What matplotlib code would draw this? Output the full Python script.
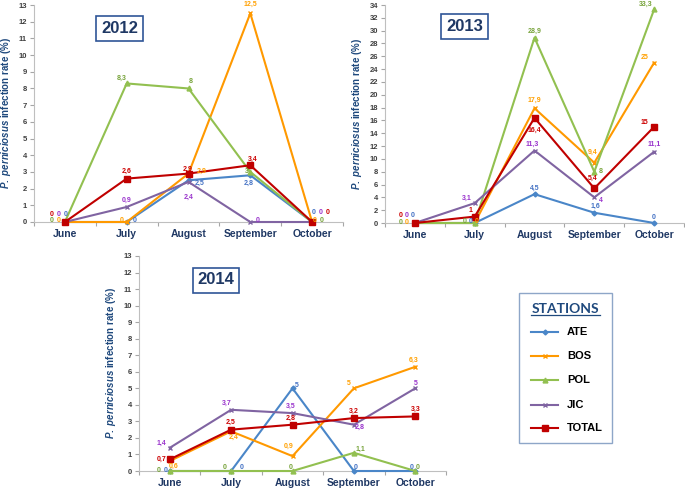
import matplotlib
matplotlib.use("Agg")
import matplotlib.pyplot as plt
from matplotlib.patches import Rectangle
from matplotlib.lines import Line2D

# ---------------- data ----------------
months = ["June", "July", "August", "September", "October"]
stations = ["ATE", "BOS", "POL", "JIC", "TOTAL"]

ate_2012 = [0, 0, 2.5, 2.8, 0]
bos_2012 = [0, 0, 2.9, 12.5, 0]
pol_2012 = [0, 8.3, 8, 3, 0]
jic_2012 = [0, 0.9, 2.4, 0, 0]
tot_2012 = [0, 2.6, 2.9, 3.4, 0]

ate_2013 = [0, 0, 4.5, 1.6, 0]
bos_2013 = [0, 0, 17.9, 9.4, 25]
pol_2013 = [0, 0, 28.9, 8, 33.3]
jic_2013 = [0, 3.1, 11.3, 4, 11.1]
tot_2013 = [0, 1, 16.4, 5.4, 15]

ate_2014 = [0, 0, 5, 0, 0]
bos_2014 = [0.6, 2.4, 0.9, 5, 6.3]
pol_2014 = [0, 0, 0, 1.1, 0]
jic_2014 = [1.4, 3.7, 3.5, 2.8, 5]
tot_2014 = [0.7, 2.5, 2.8, 3.2, 3.3]

ymax_2012, ymax_2013, ymax_2014 = 13, 34, 13
ystep_2012, ystep_2013, ystep_2014 = 1, 2, 1

# ---------------- style ----------------
plt.rcParams['font.family'] = ['Liberation Sans', 'DejaVu Sans']
plt.rcParams['mathtext.fontset'] = 'custom'
plt.rcParams['mathtext.it'] = 'Liberation Sans:italic:bold'
plt.rcParams['mathtext.rm'] = 'Liberation Sans:bold'

line_colors = {"ATE": "#4A86C8", "BOS": "#FF9900", "POL": "#92C050",
               "JIC": "#8064A2", "TOTAL": "#C00000"}
label_colors = {"ATE": "#4472C4", "BOS": "#FFA000", "POL": "#77A33A",
                "JIC": "#9933CC", "TOTAL": "#CC0000"}
markers = {"ATE": ("D", 2.5), "BOS": ("x", 3.5), "POL": ("^", 3.5),
           "JIC": ("x", 3.5), "TOTAL": ("s", 4.5)}
navy = "#1F3864"

W, H = 685, 490
fig = plt.figure(figsize=(W / 100, H / 100), dpi=100)


def px_axes(x0, x1, ytop, ybot):
    return fig.add_axes([x0 / W, 1 - ybot / H, (x1 - x0) / W, (ybot - ytop) / H])


def fmt(v):
    return f"{v:g}".replace(".", ",")


def draw(ax, series, ymax, ystep, offsets, title, title_xy):
    x = list(range(len(months)))
    for name, vals in zip(stations, series):
        m, ms = markers[name]
        ax.plot(x, vals, color=line_colors[name], lw=1.5, marker=m, ms=ms,
                mew=1.0, mec=line_colors[name], mfc=line_colors[name],
                zorder=3, clip_on=False)
    for name, vals in zip(stations, series):
        for i, v in enumerate(vals):
            dx, dy = offsets[name][i]
            ax.annotate(fmt(v), (i, v), xytext=(dx * 0.72, -dy * 0.72),
                        textcoords="offset points", ha="center", va="center",
                        fontsize=5, fontweight="bold", color=label_colors[name],
                        zorder=5, annotation_clip=False)
    ax.set_xlim(-0.5, len(months) - 0.5)
    ax.set_ylim(0, ymax)
    ax.set_yticks(range(0, ymax + 1, ystep))
    ax.set_xticks(x)
    ax.set_xticklabels(months, fontsize=7.5, fontweight="bold", color=navy)
    ax.set_xticks([i + 0.5 for i in range(-1, len(months))], minor=True)
    ax.tick_params(axis="x", which="major", length=0, pad=5)
    ax.tick_params(axis="x", which="minor", length=3, color="#A6A6A6", width=0.8)
    ax.tick_params(axis="y", length=3, color="#A6A6A6", width=0.8,
                   labelsize=5.5, labelcolor="#404040", pad=2)
    for lbl in ax.get_yticklabels():
        lbl.set_fontweight("bold")
    for s in ["top", "right"]:
        ax.spines[s].set_visible(False)
    for s in ["left", "bottom"]:
        ax.spines[s].set_color("#BFBFBF")
        ax.spines[s].set_linewidth(0.8)
    ax.set_ylabel(r"$\mathit{P.\ perniciosus}$ infection rate (%)",
                  fontsize=7, fontweight="bold", color="#1F497D", labelpad=4)
    fig.text(title_xy[0] / W, 1 - title_xy[1] / H, title, fontsize=12,
             fontweight="bold", color=navy, ha="center", va="center",
             bbox=dict(boxstyle="square,pad=0.3", fc="white", ec="#2F5597", lw=1.2))


# label offsets (pixels: dx right, dy down)
off_2012 = {
    "ATE": [(1, -8), (8, -1), (11, 3), (-2, 8), (2, -9)],
    "BOS": [(-6, -1), (-5, -2), (13, -2), (0, -9), (3, -2)],
    "POL": [(-13, -1), (-5, -5), (2, -7), (-3, 0), (10, -2)],
    "JIC": [(-6, -8), (0, -7), (0, 15), (7, -2), (9, -9)],
    "TOTAL": [(-13, -8), (0, -7), (-1, -4), (2, -6), (16, -9)],
}
off_2013 = {
    "ATE": [(-2, -8), (-4, -2), (0, -6), (1, -6), (0, -6)],
    "BOS": [(-8, -1), (2, -2), (0, -8), (-2, -10), (-9, -5)],
    "POL": [(-14, -1), (-10, -2), (0, -6), (6, 0), (-8, -5)],
    "JIC": [(-8, -8), (-8, -5), (-2, -6), (7, 3), (0, -7)],
    "TOTAL": [(-14, -8), (-4, -6), (0, 12), (-2, -10), (-10, -4)],
}
off_2014 = {
    "ATE": [(-4, -1), (11, -4), (4, -3), (2, -4), (-4, -4)],
    "BOS": [(4, 5), (2, 6), (-4, -10), (-5, -5), (-2, -6)],
    "POL": [(-11, -1), (-6, -4), (-2, -4), (7, -3), (2, -4)],
    "JIC": [(-8, -5), (-4, -6), (-2, -7), (6, 3), (0, -5)],
    "TOTAL": [(-8, 0), (0, -7), (-2, -6), (0, -7), (0, -7)],
}

ax1 = px_axes(34, 343, 5, 222)
draw(ax1, [ate_2012, bos_2012, pol_2012, jic_2012, tot_2012], ymax_2012, ystep_2012,
     off_2012, "2012", (119.5, 28.5))

ax2 = px_axes(385, 684, 5, 223)
draw(ax2, [ate_2013, bos_2013, pol_2013, jic_2013, tot_2013], ymax_2013, ystep_2013,
     off_2013, "2013", (464.5, 26.5))

ax3 = px_axes(139, 446, 256, 471)
draw(ax3, [ate_2014, bos_2014, pol_2014, jic_2014, tot_2014], ymax_2014, ystep_2014,
     off_2014, "2014", (216, 280))

# ---------------- legend box ----------------
fig.add_artist(Rectangle((519 / W, 1 - 443 / H), (612 - 519) / W, (443 - 293) / H,
                         transform=fig.transFigure, fc="white", ec="#8EA6C8", lw=1.0))
fig.text(565.5 / W, 1 - 309 / H, "STATIONS", fontsize=10, fontweight="bold",
         color="#1F497D", ha="center", va="center", family=["Lato", "DejaVu Sans"])
fig.add_artist(Line2D([531 / W, 600 / W], [1 - 315 / H, 1 - 315 / H],
                      transform=fig.transFigure, color="#1F497D", lw=0.9))
rows_y = [332, 356, 380, 405, 428]
for name, yy in zip(stations, rows_y):
    m, ms = markers[name]
    fig.add_artist(Line2D([531 / W, 558 / W], [1 - yy / H, 1 - yy / H],
                          transform=fig.transFigure, color=line_colors[name], lw=1.5))
    fig.add_artist(Line2D([544.5 / W], [1 - yy / H], transform=fig.transFigure,
                          marker=m, ms=ms, color=line_colors[name], lw=0))
    fig.text(567 / W, 1 - yy / H, name, fontsize=8, fontweight="bold",
             color="black", ha="left", va="center")

fig.savefig("out.png", dpi=100)
